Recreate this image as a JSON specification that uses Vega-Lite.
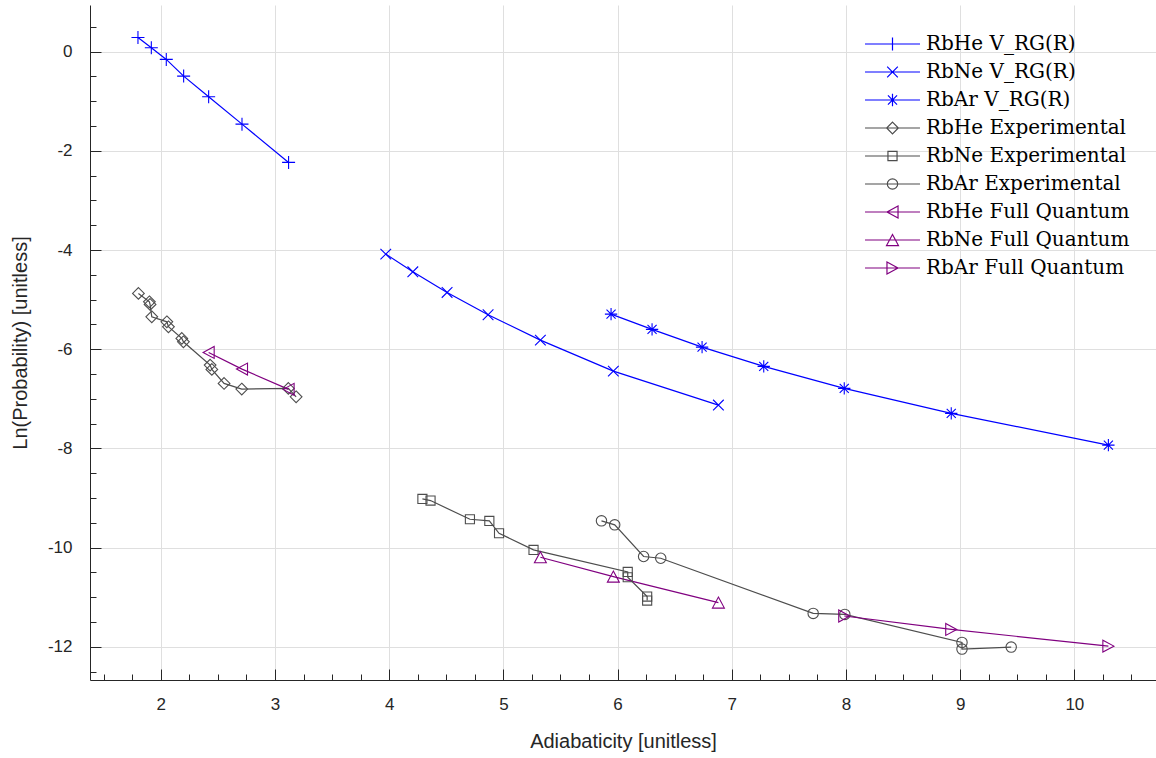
{
  "$schema": "https://vega.github.io/schema/vega-lite/v6.json",
  "width": 1066,
  "height": 675,
  "autosize": "none",
  "padding": {"left": 90, "top": 5, "right": 0, "bottom": 78},
  "background": "white",
  "config": {
    "view": {"stroke": null},
    "axis": {
      "domainColor": "#262626",
      "tickColor": "#262626",
      "labelColor": "#262626",
      "titleColor": "#262626",
      "labelFont": "Liberation Sans",
      "titleFont": "Liberation Sans",
      "labelFontSize": 17,
      "titleFontSize": 20,
      "titleFontWeight": "normal",
      "gridColor": "#dfdfdf",
      "gridWidth": 1
    },
    "legend": {
      "title": null,
      "orient": "none",
      "legendX": 792.5,
      "legendY": 29,
      "padding": 0,
      "labelFont": "DejaVu Serif",
      "labelFontSize": 20,
      "labelColor": "#000000",
      "labelOffset": 23.5,
      "labelLimit": 0,
      "rowPadding": 8,
      "symbolSize": 169,
      "symbolStrokeWidth": 1.2,
      "symbolOpacity": 1
    }
  },
  "data": {
    "values": [
      {"series": "RbHe V_RG(R)", "i": 1, "x": 1.80, "y": 0.286},
      {"series": "RbHe V_RG(R)", "i": 2, "x": 1.917, "y": 0.077},
      {"series": "RbHe V_RG(R)", "i": 3, "x": 2.048, "y": -0.157},
      {"series": "RbHe V_RG(R)", "i": 4, "x": 2.20, "y": -0.494},
      {"series": "RbHe V_RG(R)", "i": 5, "x": 2.419, "y": -0.911},
      {"series": "RbHe V_RG(R)", "i": 6, "x": 2.711, "y": -1.462},
      {"series": "RbHe V_RG(R)", "i": 7, "x": 3.119, "y": -2.234},
      {"series": "RbNe V_RG(R)", "i": 1, "x": 3.97, "y": -4.083},
      {"series": "RbNe V_RG(R)", "i": 2, "x": 4.207, "y": -4.44},
      {"series": "RbNe V_RG(R)", "i": 3, "x": 4.507, "y": -4.855},
      {"series": "RbNe V_RG(R)", "i": 4, "x": 4.866, "y": -5.306},
      {"series": "RbNe V_RG(R)", "i": 5, "x": 5.324, "y": -5.817},
      {"series": "RbNe V_RG(R)", "i": 6, "x": 5.963, "y": -6.442},
      {"series": "RbNe V_RG(R)", "i": 7, "x": 6.883, "y": -7.127},
      {"series": "RbAr V_RG(R)", "i": 1, "x": 5.943, "y": -5.292},
      {"series": "RbAr V_RG(R)", "i": 2, "x": 6.302, "y": -5.6},
      {"series": "RbAr V_RG(R)", "i": 3, "x": 6.74, "y": -5.958},
      {"series": "RbAr V_RG(R)", "i": 4, "x": 7.28, "y": -6.347},
      {"series": "RbAr V_RG(R)", "i": 5, "x": 7.985, "y": -6.79},
      {"series": "RbAr V_RG(R)", "i": 6, "x": 8.922, "y": -7.294},
      {"series": "RbAr V_RG(R)", "i": 7, "x": 10.298, "y": -7.934},
      {"series": "RbHe Experimental", "i": 1, "x": 1.804, "y": -4.875},
      {"series": "RbHe Experimental", "i": 2, "x": 1.90, "y": -5.044},
      {"series": "RbHe Experimental", "i": 3, "x": 1.906, "y": -5.097},
      {"series": "RbHe Experimental", "i": 4, "x": 1.921, "y": -5.347},
      {"series": "RbHe Experimental", "i": 5, "x": 2.053, "y": -5.448},
      {"series": "RbHe Experimental", "i": 6, "x": 2.067, "y": -5.548},
      {"series": "RbHe Experimental", "i": 7, "x": 2.184, "y": -5.782},
      {"series": "RbHe Experimental", "i": 8, "x": 2.198, "y": -5.851},
      {"series": "RbHe Experimental", "i": 9, "x": 2.432, "y": -6.321},
      {"series": "RbHe Experimental", "i": 10, "x": 2.447, "y": -6.407},
      {"series": "RbHe Experimental", "i": 11, "x": 2.554, "y": -6.69},
      {"series": "RbHe Experimental", "i": 12, "x": 2.709, "y": -6.804},
      {"series": "RbHe Experimental", "i": 13, "x": 3.117, "y": -6.79},
      {"series": "RbHe Experimental", "i": 14, "x": 3.185, "y": -6.96},
      {"series": "RbNe Experimental", "i": 1, "x": 4.291, "y": -9.019},
      {"series": "RbNe Experimental", "i": 2, "x": 4.362, "y": -9.052},
      {"series": "RbNe Experimental", "i": 3, "x": 4.707, "y": -9.429},
      {"series": "RbNe Experimental", "i": 4, "x": 4.877, "y": -9.462},
      {"series": "RbNe Experimental", "i": 5, "x": 4.962, "y": -9.711},
      {"series": "RbNe Experimental", "i": 6, "x": 5.264, "y": -10.047},
      {"series": "RbNe Experimental", "i": 7, "x": 6.089, "y": -10.49},
      {"series": "RbNe Experimental", "i": 8, "x": 6.089, "y": -10.598},
      {"series": "RbNe Experimental", "i": 9, "x": 6.259, "y": -10.988},
      {"series": "RbNe Experimental", "i": 10, "x": 6.259, "y": -11.069},
      {"series": "RbAr Experimental", "i": 1, "x": 5.859, "y": -9.461},
      {"series": "RbAr Experimental", "i": 2, "x": 5.975, "y": -9.542},
      {"series": "RbAr Experimental", "i": 3, "x": 6.228, "y": -10.18},
      {"series": "RbAr Experimental", "i": 4, "x": 6.378, "y": -10.215},
      {"series": "RbAr Experimental", "i": 5, "x": 7.713, "y": -11.327},
      {"series": "RbAr Experimental", "i": 6, "x": 7.99, "y": -11.347},
      {"series": "RbAr Experimental", "i": 7, "x": 9.016, "y": -11.912},
      {"series": "RbAr Experimental", "i": 8, "x": 9.016, "y": -12.047},
      {"series": "RbAr Experimental", "i": 9, "x": 9.447, "y": -12.007},
      {"series": "RbHe Full Quantum", "i": 1, "x": 2.419, "y": -6.065},
      {"series": "RbHe Full Quantum", "i": 2, "x": 2.711, "y": -6.401},
      {"series": "RbHe Full Quantum", "i": 3, "x": 3.119, "y": -6.81},
      {"series": "RbNe Full Quantum", "i": 1, "x": 5.324, "y": -10.195},
      {"series": "RbNe Full Quantum", "i": 2, "x": 5.963, "y": -10.585},
      {"series": "RbNe Full Quantum", "i": 3, "x": 6.883, "y": -11.109},
      {"series": "RbAr Full Quantum", "i": 1, "x": 7.985, "y": -11.38},
      {"series": "RbAr Full Quantum", "i": 2, "x": 8.922, "y": -11.65},
      {"series": "RbAr Full Quantum", "i": 3, "x": 10.298, "y": -11.987}
    ]
  },
  "layer": [
    {
      "mark": {"type": "line", "strokeWidth": 1.2},
      "encoding": {
        "x": {
          "field": "x", "type": "quantitative",
          "scale": {"domain": [1.38, 10.715], "nice": false, "zero": false},
          "axis": {
            "orient": "bottom",
            "values": [2, 3, 4, 5, 6, 7, 8, 9, 10],
            "grid": true,
            "tickSize": -11,
            "labelPadding": 27,
            "title": "Adiabaticity [unitless]",
            "titlePadding": 19
          }
        },
        "y": {
          "field": "y", "type": "quantitative",
          "scale": {"domain": [-12.67, 0.94], "nice": false, "zero": false},
          "axis": {
            "orient": "left",
            "values": [0, -2, -4, -6, -8, -10, -12],
            "grid": true,
            "tickSize": -11,
            "labelPadding": 29,
            "labelExpr": "toString(datum.value)",
            "title": "Ln(Probability) [unitless]",
            "titlePadding": 17
          }
        },
        "color": {
          "field": "series", "type": "nominal",
          "scale": {
            "domain": ["RbHe V_RG(R)", "RbNe V_RG(R)", "RbAr V_RG(R)", "RbHe Experimental", "RbNe Experimental", "RbAr Experimental", "RbHe Full Quantum", "RbNe Full Quantum", "RbAr Full Quantum"],
            "range": ["#0000ff", "#0000ff", "#0000ff", "#4d4d4d", "#4d4d4d", "#4d4d4d", "#800080", "#800080", "#800080"]
          },
          "legend": null
        },
        "order": {"field": "i", "type": "quantitative"}
      }
    },
    {
      "mark": {"type": "point", "filled": false, "size": 169, "strokeWidth": 1.1, "opacity": 1},
      "encoding": {
        "x": {
          "field": "x", "type": "quantitative",
          "axis": {
            "orient": "bottom",
            "values": [1.5, 1.75, 2.25, 2.5, 2.75, 3.25, 3.5, 3.75, 4.25, 4.5, 4.75, 5.25, 5.5, 5.75, 6.25, 6.5, 6.75, 7.25, 7.5, 7.75, 8.25, 8.5, 8.75, 9.25, 9.5, 9.75, 10.25, 10.5],
            "grid": false, "domain": false, "labels": false, "title": null,
            "tickSize": -6
          }
        },
        "y": {
          "field": "y", "type": "quantitative",
          "axis": {
            "orient": "left",
            "values": [0.5, -0.5, -1, -1.5, -2.5, -3, -3.5, -4.5, -5, -5.5, -6.5, -7, -7.5, -8.5, -9, -9.5, -10.5, -11, -11.5, -12.5],
            "grid": false, "domain": false, "labels": false, "title": null,
            "tickSize": -6
          }
        },
        "color": {"field": "series", "type": "nominal", "legend": null},
        "shape": {
          "field": "series", "type": "nominal",
          "scale": {
            "domain": ["RbHe V_RG(R)", "RbNe V_RG(R)", "RbAr V_RG(R)", "RbHe Experimental", "RbNe Experimental", "RbAr Experimental", "RbHe Full Quantum", "RbNe Full Quantum", "RbAr Full Quantum"],
            "range": [
              "M-1,0H1M0,-1V1",
              "M-0.82,-0.82L0.82,0.82M-0.82,0.82L0.82,-0.82",
              "M-0.95,0H0.95M0,-0.95V0.95M-0.7,-0.7L0.7,0.7M-0.7,0.7L0.7,-0.7",
              "M0,-0.9L0.9,0L0,0.9L-0.9,0Z",
              "M-0.7,-0.7H0.7V0.7H-0.7Z",
              "M0.8,0A0.8,0.8,0,1,1,-0.8,0A0.8,0.8,0,1,1,0.8,0Z",
              "M-0.85,0L0.85,-0.92L0.85,0.92Z",
              "M0,-0.85L0.92,0.85L-0.92,0.85Z",
              "M0.85,0L-0.85,-0.92L-0.85,0.92Z"
            ]
          },
          "legend": null
        }
      }
    },
    {
      "mark": {"type": "point", "filled": false, "size": 169, "strokeWidth": 1.2, "opacity": 0},
      "encoding": {
        "x": {"field": "x", "type": "quantitative", "axis": null},
        "y": {"field": "y", "type": "quantitative", "axis": null},
        "color": {"field": "series", "type": "nominal"},
        "shape": {
          "field": "series", "type": "nominal",
          "scale": {
            "domain": ["RbHe V_RG(R)", "RbNe V_RG(R)", "RbAr V_RG(R)", "RbHe Experimental", "RbNe Experimental", "RbAr Experimental", "RbHe Full Quantum", "RbNe Full Quantum", "RbAr Full Quantum"],
            "range": [
              "M-4.23,0H4.23M0,-1V1",
              "M-4.23,0H4.23M-0.82,-0.82L0.82,0.82M-0.82,0.82L0.82,-0.82",
              "M-4.23,0H4.23M0,-0.95V0.95M-0.7,-0.7L0.7,0.7M-0.7,0.7L0.7,-0.7",
              "M-4.23,0H4.23M0,-0.9L0.9,0L0,0.9L-0.9,0Z",
              "M-4.23,0H4.23M-0.7,-0.7H0.7V0.7H-0.7Z",
              "M-4.23,0H4.23M0.8,0A0.8,0.8,0,1,1,-0.8,0A0.8,0.8,0,1,1,0.8,0Z",
              "M-4.23,0H4.23M-0.85,0L0.85,-0.92L0.85,0.92Z",
              "M-4.23,0H4.23M0,-0.85L0.92,0.85L-0.92,0.85Z",
              "M-4.23,0H4.23M0.85,0L-0.85,-0.92L-0.85,0.92Z"
            ]
          }
        }
      }
    }
  ],
  "resolve": {
    "axis": {"x": "independent", "y": "independent"},
    "scale": {"shape": "independent"},
    "legend": {"color": "independent", "shape": "independent"}
  }
}
